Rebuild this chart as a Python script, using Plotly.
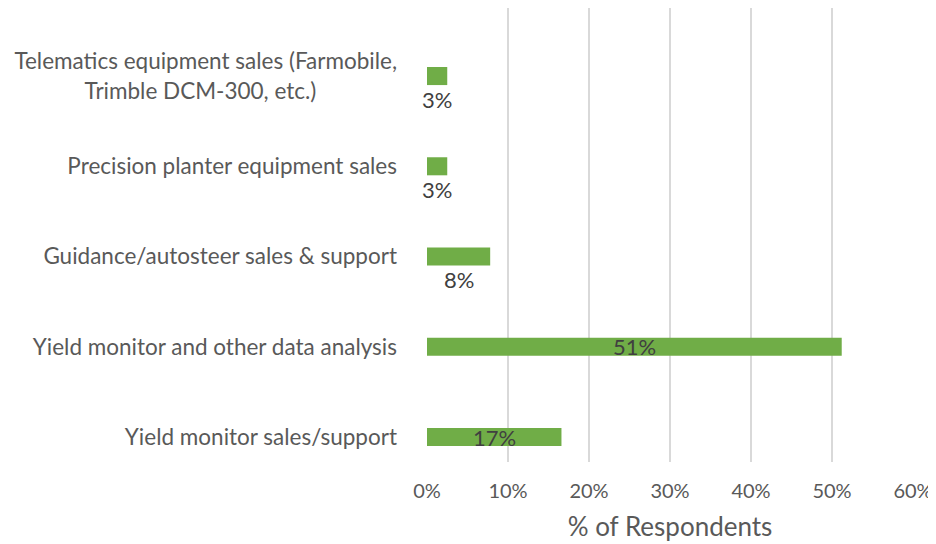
import plotly.graph_objects as go

NB = "\u00a0"
categories = [
    "Yield monitor sales/support",
    "Yield monitor and other data analysis",
    "Guidance/autosteer sales & support",
    "Precision planter equipment sales",
    "Telematics equipment sales (Farmobile,<br>Trimble DCM-300, etc.)" + NB * 14,
]
values = [16.6, 51.2, 7.8, 2.5, 2.5]
labels = ["17%", "51%", "8%", "3%", "3%"]
label_below = [False, False, True, True, True]
tick_vals = [0, 10, 20, 30, 40, 50, 60]
tick_text = ["0%", "10%", "20%", "30%", "40%", "50%", "60%"]

FONT = "Lato"
GREY = "#595959"

fig = go.Figure()
fig.add_trace(go.Bar(
    y=categories, x=values, orientation="h",
    marker=dict(color="#70AD47", line=dict(width=0)),
    width=0.2, hoverinfo="skip",
))

for c, v, t, below in zip(categories, values, labels, label_below):
    fig.add_annotation(
        x=v / 2, y=c, xref="x", yref="y", text=t, showarrow=False,
        yshift=-23 if below else 0,
        font=dict(family=FONT, size=22, color="#404040"),
    )

# the page body adds an 8px offset, so the figure is sized 8px smaller
fig.update_layout(
    width=928, height=536,
    margin=dict(l=419, r=23, t=0, b=82, autoexpand=False),
    paper_bgcolor="white", plot_bgcolor="white",
    showlegend=False,
    font=dict(family=FONT, size=22, color=GREY),
    xaxis=dict(
        range=[0, 60], tickvals=tick_vals, ticktext=tick_text,
        showgrid=True, gridcolor="#D9D9D9", gridwidth=2,
        zeroline=False, showline=False, ticks="",
        ticklabelstandoff=15, automargin=False,
        title=dict(text="% of Respondents", standoff=16,
                   font=dict(family=FONT, size=26, color=GREY)),
        tickfont=dict(family=FONT, size=20, color=GREY),
        fixedrange=True,
    ),
    yaxis=dict(
        type="category", range=[-0.277, 4.754],
        showgrid=False, zeroline=False, showline=False, ticks="",
        ticklabelstandoff=29, automargin=False,
        tickfont=dict(family=FONT, size=22.5, color=GREY),
        fixedrange=True,
    ),
)

fig.write_html("out.html")
